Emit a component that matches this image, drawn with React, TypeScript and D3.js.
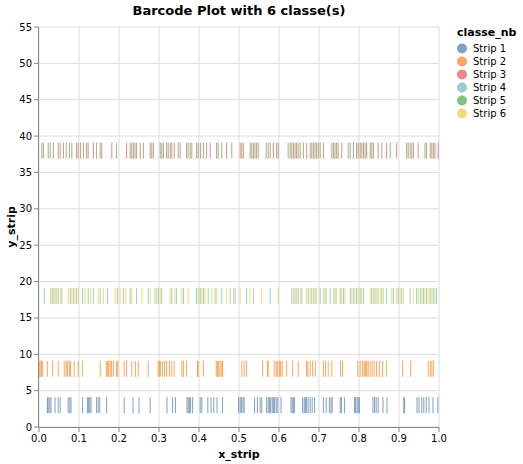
import * as d3 from "d3"

const classes = ["Strip 1", "Strip 2", "Strip 3", "Strip 4", "Strip 5", "Strip 6"]
const colors = ["#4c78a8", "#f58518", "#e45756", "#72b7b2", "#54a24b", "#eeca3b"]
const yLevels = [3, 8, 38, 18, 38, 18]

const strip1 = [.021,.023,.027,.030,.040,.048,.053,.073,.077,.080,.109,.121,.124,.127,.130,.144,.148,.152,.169,.213,.235,.250,.278,.320,.334,.341,.370,.373,.376,.379,.384,.403,.407,.422,.430,.437,.445,.459,.499,.503,.506,.510,.513,.539,.546,.553,.557,.569,.573,.576,.579,.583,.586,.589,.593,.597,.605,.630,.633,.636,.639,.659,.663,.666,.669,.673,.678,.683,.689,.711,.718,.726,.730,.733,.753,.756,.764,.789,.791,.795,.798,.801,.835,.839,.843,.848,.860,.870,.912,.914,.945,.950,.957,.962,.968,.975,.985,.997]
const strip2 = [0.0,.003,.006,.009,.021,.034,.048,.063,.068,.071,.076,.079,.088,.098,.109,.153,.168,.171,.174,.178,.181,.186,.194,.197,.213,.219,.232,.241,.248,.273,.298,.301,.304,.309,.314,.319,.326,.332,.338,.357,.361,.369,.396,.398,.411,.443,.446,.449,.453,.457,.459,.507,.513,.519,.559,.571,.573,.588,.593,.596,.601,.604,.608,.619,.634,.648,.669,.672,.678,.684,.691,.711,.716,.723,.732,.754,.759,.797,.803,.809,.813,.816,.819,.823,.828,.833,.838,.844,.851,.859,.869,.909,.929,.973,.978,.982,.986]
const strip3 = [.011,.028,.048,.061,.076,.094,.104,.119,.136,.153,.182,.219,.232,.240,.253,.278,.286,.307,.319,.328,.338,.353,.373,.382,.398,.411,.428,.448,.469,.503,.511,.532,.540,.548,.573,.586,.598,.628,.636,.644,.653,.669,.682,.690,.698,.711,.736,.744,.757,.778,.794,.803,.811,.819,.832,.848,.869,.894,.923,.932,.948,.969,.982,.990,.998]
const strip4 = [.013,.033,.040,.048,.057,.078,.086,.094,.109,.123,.136,.153,.171,.196,.211,.228,.244,.273,.290,.298,.307,.332,.344,.361,.394,.403,.411,.423,.440,.457,.478,.490,.519,.536,.578,.632,.640,.648,.657,.673,.682,.690,.703,.715,.728,.740,.753,.761,.778,.786,.794,.803,.811,.832,.840,.848,.857,.869,.886,.898,.907,.928,.944,.953,.961,.969,.978,.986,.994]
const strip5 = [.007,.023,.036,.053,.068,.082,.098,.111,.123,.144,.157,.194,.228,.236,.244,.261,.282,.303,.311,.323,.332,.348,.369,.378,.394,.404,.419,.444,.457,.482,.507,.528,.536,.544,.568,.578,.594,.623,.632,.640,.648,.661,.678,.686,.694,.703,.732,.740,.748,.773,.786,.798,.807,.815,.828,.836,.857,.878,.919,.928,.936,.965,.978,.986]
const strip6 = [.029,.036,.044,.053,.073,.082,.090,.098,.115,.129,.148,.161,.190,.203,.217,.232,.257,.278,.294,.303,.328,.340,.357,.373,.398,.407,.415,.432,.444,.469,.486,.503,.528,.557,.598,.636,.644,.653,.669,.678,.686,.694,.711,.719,.736,.744,.757,.765,.782,.790,.798,.807,.828,.836,.844,.853,.861,.882,.894,.903,.911,.936,.948,.957,.965,.973,.982,.990]
const strips = [strip1, strip2, strip3, strip4, strip5, strip6]

const xTicks = d3.range(0, 1.01, 0.1)
const yTicks = d3.range(0, 56, 5)

const W = 523, H = 464
const left = 39, right = 439, top = 27, bottom = 427

export default function App() {
  const x = d3.scaleLinear().domain([0, 1]).range([left, right])
  const y = d3.scaleLinear().domain([0, 55]).range([bottom, top])
  const font = "DejaVu Sans, sans-serif"
  return (
    <svg width={W} height={H} style={{ position: "absolute", left: 0, top: 0 }} fontFamily={font}>
      <rect width={W} height={H} fill="white" />
      {xTicks.map((t) => (
        <line key={"gx" + t} x1={x(t)} x2={x(t)} y1={top} y2={bottom} stroke="#ddd" />
      ))}
      {yTicks.map((t) => (
        <line key={"gy" + t} x1={left} x2={right} y1={y(t)} y2={y(t)} stroke="#ddd" />
      ))}
      {strips.map((s, i) =>
        s.map((v, j) => (
          <line key={i + "-" + j} x1={x(v)} x2={x(v)} y1={y(yLevels[i]) - 8} y2={y(yLevels[i]) + 8}
            stroke={colors[i]} strokeWidth={1} strokeOpacity={0.7} />
        ))
      )}
      <line x1={left} x2={right} y1={bottom + 0.5} y2={bottom + 0.5} stroke="#888" />
      <line x1={left - 0.5} x2={left - 0.5} y1={top} y2={bottom} stroke="#888" />
      {xTicks.map((t) => (
        <g key={"tx" + t}>
          <line x1={x(t)} x2={x(t)} y1={bottom} y2={bottom + 5} stroke="#888" />
          <text x={x(t)} y={bottom + 15} fontSize={10} textAnchor="middle" fill="#000">{t.toFixed(1)}</text>
        </g>
      ))}
      {yTicks.map((t) => (
        <g key={"ty" + t}>
          <line x1={left - 5} x2={left} y1={y(t)} y2={y(t)} stroke="#888" />
          <text x={left - 7} y={y(t) + 3.5} fontSize={10} textAnchor="end" fill="#000">{t}</text>
        </g>
      ))}
      <text x={(left + right) / 2} y={458} fontSize={11} fontWeight="bold" textAnchor="middle">x_strip</text>
      <text transform={`translate(15,${(top + bottom) / 2}) rotate(-90)`} fontSize={11} fontWeight="bold" textAnchor="middle">y_strip</text>
      <text x={(left + right) / 2} y={15} fontSize={13} fontWeight="bold" textAnchor="middle">Barcode Plot with 6 classe(s)</text>
      <text x={457} y={36} fontSize={11} fontWeight="bold">classe_nb</text>
      {classes.map((c, i) => (
        <g key={c} transform={`translate(462,${48.5 + i * 13})`}>
          <circle r={5} fill={colors[i]} fillOpacity={0.7} />
          <text x={11} y={3.5} fontSize={10}>{c}</text>
        </g>
      ))}
    </svg>
  )
}
